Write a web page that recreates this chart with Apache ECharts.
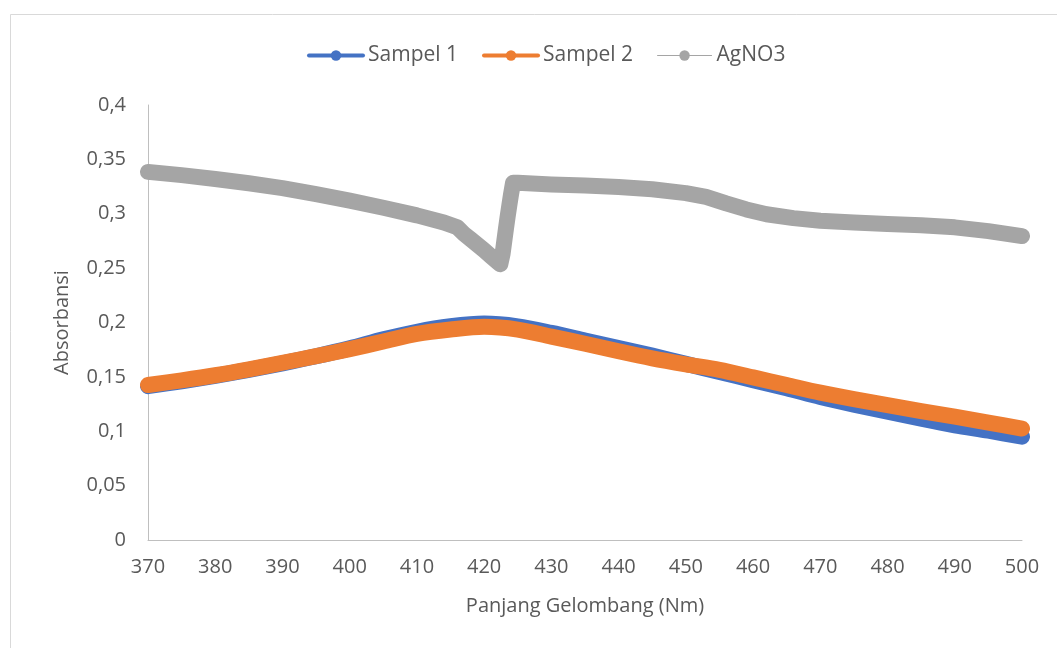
<!DOCTYPE html>
<html>
<head>
<meta charset="utf-8">
<script src="https://cdn.jsdelivr.net/npm/echarts@6/dist/echarts.min.js"></script>
<style>
	html, body { margin: 0; padding: 0; background: #fff; }
	#chartDiv { width: 1057px; height: 648px; }
</style>
</head>
<body>
<div id="chartDiv"></div>
<script>
// wavelength (nm) for the two samples
var wl = [370, 375, 380, 385, 390, 395, 400, 405, 410, 415, 420, 425, 430, 435,
	440, 445, 450, 455, 460, 465, 470, 475, 480, 485, 490, 495, 500];

var sampel1 = [0.1415, 0.146, 0.151, 0.1565, 0.1625, 0.169, 0.1762, 0.1845, 0.1915, 0.1965,
	0.199, 0.1965, 0.1905, 0.1835, 0.1765, 0.1695, 0.162, 0.1545, 0.147, 0.1395,
	0.1315, 0.1245, 0.118, 0.1115, 0.1055, 0.1005, 0.095];

var sampel2 = [0.1425, 0.1468, 0.1515, 0.157, 0.163, 0.169, 0.1755, 0.1825, 0.1895, 0.1935,
	0.196, 0.1935, 0.187, 0.1805, 0.1735, 0.167, 0.1615, 0.1565, 0.1495, 0.1425,
	0.1355, 0.1295, 0.124, 0.1185, 0.1135, 0.108, 0.1025];

// AgNO3 has its own x values (denser around the jump)
var agWl = [370, 375, 380, 385, 390, 395, 400, 405, 410, 414, 416, 417, 418, 419, 420, 421, 422, 422.4,
	422.75, 423, 423.25, 423.5, 423.75, 424, 424.3, 425, 430, 435, 440, 445, 450, 453, 456, 459,
	462, 466, 470, 475, 480, 485, 490, 495, 500];

var agno3 = [0.3385, 0.3355, 0.332, 0.328, 0.3235, 0.318, 0.312, 0.3055, 0.2985, 0.292, 0.2875, 0.2815,
	0.2765, 0.2715, 0.2665, 0.261, 0.2555, 0.2535,
	0.2635, 0.275, 0.2865, 0.2975, 0.308, 0.318, 0.3285, 0.3285, 0.327, 0.326, 0.3245, 0.3225,
	0.319, 0.3155, 0.3095, 0.304, 0.2995, 0.296, 0.2935, 0.292, 0.2905, 0.2895, 0.2875, 0.284, 0.2795];

var names = ['Sampel 1', 'Sampel 2', 'AgNO3'];
var colors = ['#4472c4', '#ed7d31', '#a5a5a5'];

function pairs(xs, ys) {
	var out = [];
	for (var i = 0; i < xs.length; i++) out.push([xs[i], ys[i]]);
	return out;
}

var chart = echarts.init(document.getElementById('chartDiv'));
var font = 'Open Sans';
var txt = '#595959';

// thick round-capped line stands in for the overlapping Excel markers
function makeSeries(name, color, data, smooth) {
	return {
		name: name,
		type: 'line',
		data: data,
		smooth: smooth,
		symbol: 'circle',
		symbolSize: 13,
		showSymbol: false,
		itemStyle: { color: color, borderWidth: 0 },
		lineStyle: { color: color, width: 16, cap: 'round', join: 'round' },
		emphasis: { disabled: true },
		animation: false
	};
}

var option = {
	backgroundColor: '#fff',
	graphic: [{
		type: 'rect',
		shape: { x: 10.5, y: 14.5, width: 1060, height: 650 },
		style: { fill: 'none', stroke: '#d9d9d9', lineWidth: 1 },
		silent: true
	}],
	legend: {
		top: 40,
		left: 302,
		itemWidth: 54,
		itemHeight: 13,
		itemGap: 24,
		textStyle: { color: txt, fontFamily: font, fontSize: 21 },
		data: [
			{ name: names[0], lineStyle: { width: 4 }, itemStyle: { color: colors[0], borderWidth: 0 } },
			{ name: names[1], lineStyle: { width: 4 }, itemStyle: { color: colors[1], borderWidth: 0 } },
			{ name: names[2], lineStyle: { width: 1 }, itemStyle: { color: colors[2], borderWidth: 0 } }
		]
	},
	grid: {
		left: 148,
		right: 35,
		top: 105,
		bottom: 108
	},
	xAxis: {
		type: 'value',
		min: 370,
		max: 500,
		interval: 10,
		name: 'Panjang Gelombang (Nm)',
		nameLocation: 'middle',
		nameGap: 56,
		nameTextStyle: { color: txt, fontFamily: font, fontSize: 20 },
		axisLine: { lineStyle: { color: '#bfbfbf', width: 1 } },
		axisTick: { show: false },
		splitLine: { show: false },
		axisLabel: { color: txt, fontFamily: font, fontSize: 20, margin: 17 }
	},
	yAxis: {
		type: 'value',
		min: 0,
		max: 0.4,
		interval: 0.05,
		name: 'Absorbansi',
		nameLocation: 'middle',
		nameGap: 76,
		nameTextStyle: { color: txt, fontFamily: font, fontSize: 20 },
		axisLine: { show: true, lineStyle: { color: '#bfbfbf', width: 1 } },
		axisTick: { show: false },
		splitLine: { show: false },
		axisLabel: {
			color: txt, fontFamily: font, fontSize: 20, margin: 22,
			formatter: function (v) { return String(+v.toFixed(2)).replace('.', ','); }
		}
	},
	series: [
		makeSeries(names[0], colors[0], pairs(wl, sampel1), 0.3),
		makeSeries(names[1], colors[1], pairs(wl, sampel2), 0.3),
		makeSeries(names[2], colors[2], pairs(agWl, agno3), false)
	]
};

chart.setOption(option);
</script>
</body>
</html>
